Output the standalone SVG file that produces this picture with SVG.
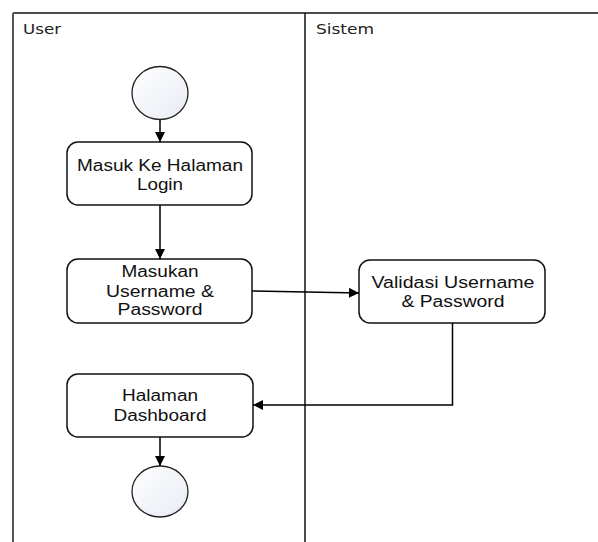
<svg xmlns="http://www.w3.org/2000/svg" width="598" height="542" viewBox="0 0 598 542">
  <style>
    .lane { font-family: "DejaVu Sans", sans-serif; font-size: 14px; fill: #222; }
    .lbl { font-family: "Liberation Sans", Arial, sans-serif; font-size: 16px; fill: #111; text-anchor: middle; }
    .box { fill: #fff; stroke: #111; stroke-width: 1.5; }
    .node { fill: url(#cg); stroke: #222; stroke-width: 1.3; }
    .conn { fill: none; stroke: #000; stroke-width: 1.5; marker-end: url(#ah); }
  </style>
  <defs>
    <marker id="ah" viewBox="0 0 10 10" refX="10" refY="5" markerUnits="userSpaceOnUse" markerWidth="11" markerHeight="10" orient="auto">
      <path d="M0,0 L10,5 L0,10 z" fill="#000"/>
    </marker>
    <linearGradient id="cg" x1="0" y1="0" x2="1" y2="1">
      <stop offset="0" stop-color="#ffffff"/>
      <stop offset="1" stop-color="#e8ebf4"/>
    </linearGradient>
  </defs>
  <rect width="598" height="542" fill="#fff"/>
  <g id="lanes">
    <line x1="13" y1="13" x2="598" y2="13" stroke="#111" stroke-width="1.5"/>
    <line x1="13" y1="13" x2="13" y2="542" stroke="#555" stroke-width="2"/>
    <line x1="305" y1="13" x2="305" y2="542" stroke="#111" stroke-width="1.5"/>
    <text class="lane" x="23" y="34" textLength="38" lengthAdjust="spacingAndGlyphs">User</text>
    <text class="lane" x="316" y="34" textLength="58" lengthAdjust="spacingAndGlyphs">Sistem</text>
  </g>
  <g id="start">
    <ellipse class="node" cx="160" cy="93" rx="28" ry="26.5"/>
  </g>
  <g id="masuk-login">
    <rect class="box" x="67" y="142" width="185" height="63" rx="11"/>
    <text class="lbl" x="160" y="171" textLength="166" lengthAdjust="spacingAndGlyphs">Masuk Ke Halaman</text>
    <text class="lbl" x="160" y="190" textLength="46" lengthAdjust="spacingAndGlyphs">Login</text>
  </g>
  <g id="masukan">
    <rect class="box" x="67" y="259" width="185" height="64" rx="11"/>
    <text class="lbl" x="160" y="277" textLength="77" lengthAdjust="spacingAndGlyphs">Masukan</text>
    <text class="lbl" x="160" y="296.5" textLength="108" lengthAdjust="spacingAndGlyphs">Username &amp;</text>
    <text class="lbl" x="160" y="315" textLength="85" lengthAdjust="spacingAndGlyphs">Password</text>
  </g>
  <g id="validasi">
    <rect class="box" x="359" y="260" width="186" height="63" rx="11"/>
    <text class="lbl" x="453" y="288" textLength="163" lengthAdjust="spacingAndGlyphs">Validasi Username</text>
    <text class="lbl" x="453" y="306.5" textLength="103" lengthAdjust="spacingAndGlyphs">&amp; Password</text>
  </g>
  <g id="dashboard">
    <rect class="box" x="67" y="374" width="186" height="63" rx="11"/>
    <text class="lbl" x="160" y="400.5" textLength="76" lengthAdjust="spacingAndGlyphs">Halaman</text>
    <text class="lbl" x="160" y="421" textLength="93" lengthAdjust="spacingAndGlyphs">Dashboard</text>
  </g>
  <g id="end">
    <ellipse class="node" cx="160" cy="491.5" rx="28" ry="25.5"/>
  </g>
  <g id="connectors">
    <path class="conn" d="M160,119.5 L160,142"/>
    <path class="conn" d="M160,205 L160,259"/>
    <path class="conn" d="M252,291 L359,293"/>
    <path class="conn" d="M452.5,323 L452.5,405 L253,405"/>
    <path class="conn" d="M160,437 L160,466"/>
  </g>
</svg>
